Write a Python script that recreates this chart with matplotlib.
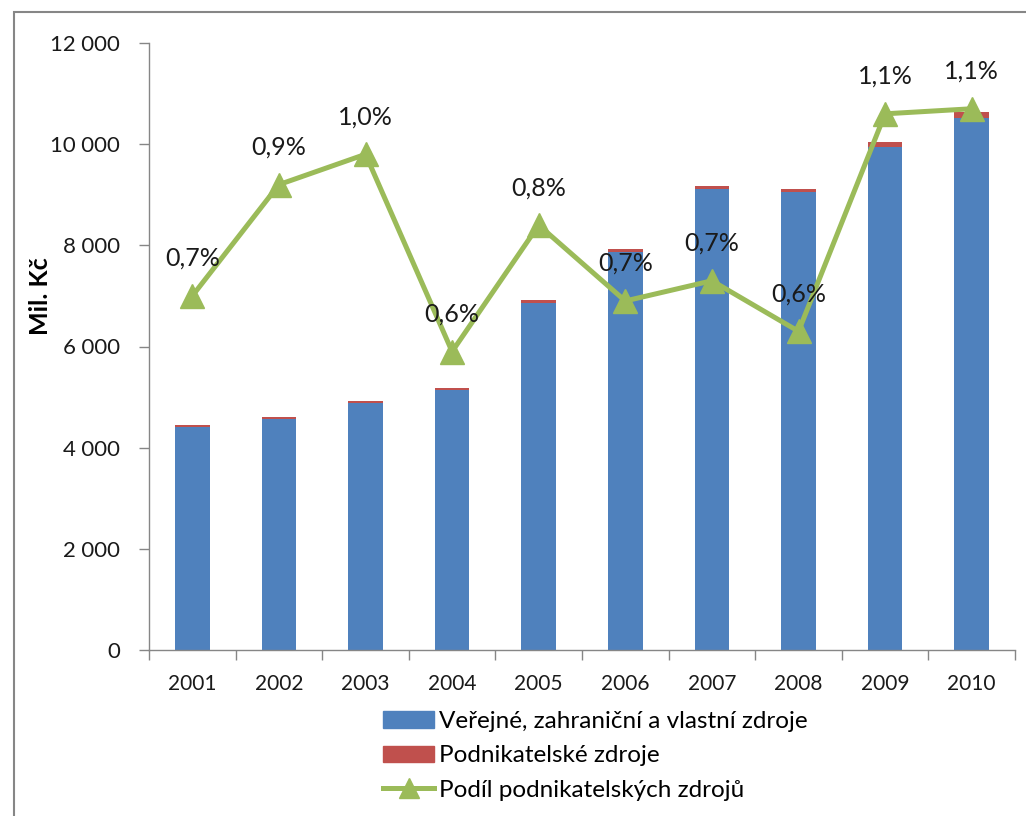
import matplotlib.pyplot as plt
from matplotlib.patches import Rectangle
from matplotlib.lines import Line2D
from matplotlib.ticker import FuncFormatter, FixedLocator
import numpy as np

plt.rcParams['font.family'] = ['Lato', 'DejaVu Sans']

# data
years = ['2001', '2002', '2003', '2004', '2005', '2006', '2007', '2008', '2009', '2010']
verejne = [4417, 4570, 4875, 5149, 6862, 7873, 9113, 9057, 9942, 10516]
podnikatelske = [31, 42, 48, 31, 58, 55, 67, 57, 107, 114]
podil = [0.70, 0.92, 0.98, 0.59, 0.84, 0.69, 0.73, 0.63, 1.06, 1.07]  # %

BLUE = '#4F81BD'
RED = '#C0504D'
GREEN = '#9BBB59'
GRAY = '#868686'

fig = plt.figure(figsize=(10.26, 8.16), dpi=100)
W, H = 1026, 816

# outer chart frame (right/bottom edges are outside the picture)
fig.patches.append(Rectangle((14 / W, -0.1), 1.2, 1 - 12 / H + 0.1,
                             transform=fig.transFigure, fill=False,
                             edgecolor=GRAY, lw=1.5))

ax = fig.add_axes([149 / W, 1 - 650 / H, (1015 - 149) / W, (650 - 43) / H])
x = np.arange(len(years))

ax.bar(x, verejne, width=0.40, color=BLUE, zorder=2)
ax.bar(x, podnikatelske, width=0.40, bottom=verejne, color=RED, zorder=2)

ax.set_xlim(-0.5, len(years) - 0.5)
ax.set_ylim(0, 12000)
ax.set_yticks(np.arange(0, 12001, 2000))
ax.yaxis.set_major_formatter(FuncFormatter(lambda v, p: '{:,.0f}'.format(v).replace(',', '\u2009\u2009')))
ax.set_xticks(x)
ax.set_xticklabels(years)
ax.xaxis.set_minor_locator(FixedLocator(np.arange(-0.5, len(years), 1.0)))
ax.tick_params(axis='x', which='major', length=0, pad=17, labelsize=15, colors='#1a1a1a')
ax.tick_params(axis='x', which='minor', length=7, width=1, color=GRAY)
ax.tick_params(axis='y', length=7, width=1, color=GRAY, pad=14, labelsize=16, labelcolor='#1a1a1a')
for s in ['top', 'right']:
    ax.spines[s].set_visible(False)
for s in ['left', 'bottom']:
    ax.spines[s].set_color(GRAY)
    ax.spines[s].set_linewidth(1)

# share line on hidden secondary axis
ax2 = ax.twinx()
ax2.set_ylim(0, 1.2)
ax2.axis('off')
ax2.plot(x, podil, color=GREEN, lw=3.6, marker='^', ms=17, zorder=3)
for xi, p in zip(x, podil):
    ax2.annotate('{:.1f}%'.format(p).replace('.', ','), (xi, p), xytext=(0, 27),
                 textcoords='offset points', ha='center', va='center',
                 fontsize=18, color='#1a1a1a')

fig.text(40 / W, 1 - 296 / H, 'Mil. Kč', rotation=90, ha='center', va='center',
         fontsize=18, fontweight='bold', color='black')

handles = [Rectangle((0, 0), 1, 1, color=BLUE),
           Rectangle((0, 0), 1, 1, color=RED),
           Line2D([], [], color=GREEN, lw=3.6, marker='^', ms=14)]
labels = ['Veřejné, zahraniční a vlastní zdroje', 'Podnikatelské zdroje',
          'Podíl podnikatelských zdrojů']
fig.legend(handles, labels, loc='upper left', bbox_to_anchor=(383 / W, 1 - 711 / H),
           frameon=False, fontsize=17.5, handlelength=2.1, handleheight=0.65,
           handletextpad=0.2, labelspacing=0.55, borderpad=0, borderaxespad=0)

fig.savefig('out.png', dpi=100)
